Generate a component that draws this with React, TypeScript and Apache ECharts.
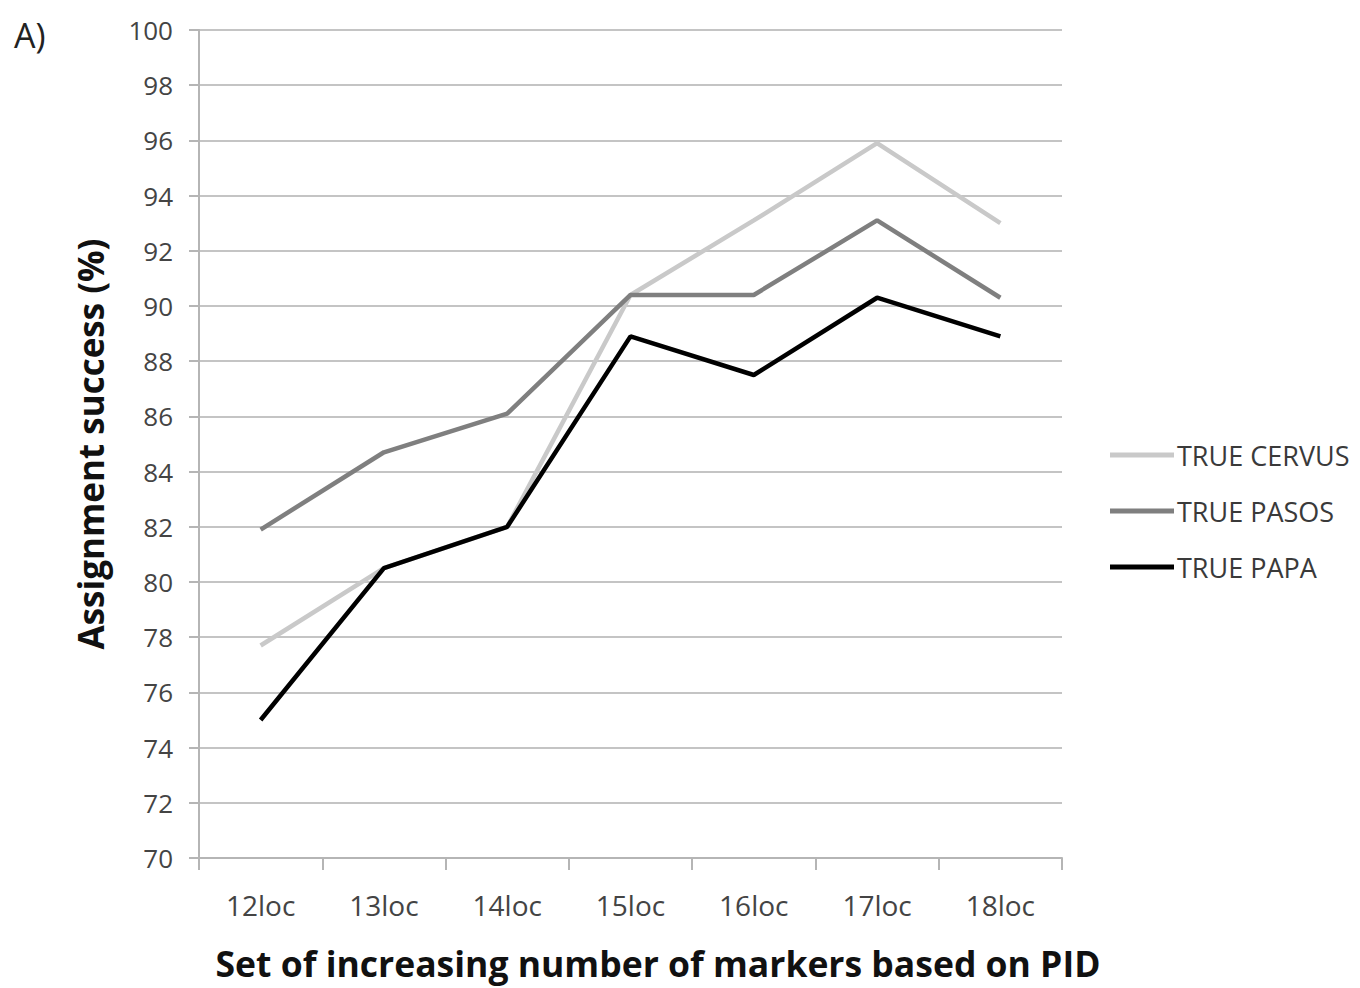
import React, { useEffect, useRef } from "react";
import * as echarts from "echarts";

const categories = ["12loc", "13loc", "14loc", "15loc", "16loc", "17loc", "18loc"];
const cervus = [77.7, 80.5, 82.0, 90.4, 93.1, 95.9, 93.0];
const pasos = [81.9, 84.7, 86.1, 90.4, 90.4, 93.1, 90.3];
const papa = [75.0, 80.5, 82.0, 88.9, 87.5, 90.3, 88.9];
const seriesNames = ["TRUE CERVUS", "TRUE PASOS", "TRUE PAPA"];
const seriesColors = ["#c9c9c9", "#7f7f7f", "#000000"];
const xTitle = "Set of increasing number of markers based on PID";
const yTitle = "Assignment success (%)";

const FONT = "'Open Sans', 'Noto Sans', sans-serif";

export default function App() {
  const ref = useRef<HTMLDivElement>(null);
  useEffect(() => {
    if (!ref.current) return;
    const chart = echarts.init(ref.current, null, { renderer: "svg" });
    const values = [cervus, pasos, papa];
    chart.setOption({
      animation: false,
      backgroundColor: "#ffffff",
      textStyle: { fontFamily: FONT },
      grid: { left: 199, right: 298, top: 30, bottom: 130, containLabel: false },
      graphic: [
        {
          type: "text",
          left: 14,
          top: 18,
          style: { text: "A)", font: `34px ${FONT}`, fill: "#222" },
        },
        {
          type: "text",
          x: 658,
          y: 963,
          style: {
            text: xTitle,
            font: `bold 35.5px ${FONT}`,
            lineHeight: 38,
            fill: "#111",
            align: "center",
            verticalAlign: "middle",
          },
        },
      ],
      legend: {
        orient: "vertical",
        left: 1105,
        top: 436,
        icon: "rect",
        itemWidth: 64,
        itemHeight: 5,
        itemGap: 28,
        textStyle: { fontFamily: FONT, fontSize: 27, lineHeight: 28, color: "#3a3a3a", padding: [0, 0, 0, -2] },
        data: seriesNames,
      },
      xAxis: {
        type: "category",
        data: categories,
        boundaryGap: true,
        axisLine: { lineStyle: { color: "#b5b5b5", width: 2 } },
        axisTick: { show: true, length: 12, lineStyle: { color: "#b5b5b5", width: 2 } },
        axisLabel: { fontFamily: FONT, fontSize: 28, color: "#444", margin: 33 },
      },
      yAxis: {
        type: "value",
        min: 70,
        max: 100,
        interval: 2,
        axisLine: { show: true, lineStyle: { color: "#b5b5b5", width: 2 } },
        axisTick: { show: true, length: 10, lineStyle: { color: "#b5b5b5", width: 2 } },
        splitLine: { lineStyle: { color: "#c4c4c4", width: 2 } },
        axisLabel: { fontFamily: FONT, fontSize: 26, color: "#444", margin: 26 },
        name: yTitle,
        nameLocation: "middle",
        nameGap: 91,
        nameTextStyle: { fontFamily: FONT, fontSize: 35, fontWeight: "bold", color: "#111" },
      },
      series: seriesNames.map((n, i) => ({
        name: n,
        type: "line",
        data: values[i],
        symbol: "none",
        color: seriesColors[i],
        lineStyle: { color: seriesColors[i], width: 4.5 },
        z: 2 + i,
      })),
    });
    return () => chart.dispose();
  }, []);
  return (
    <div
      ref={ref}
      style={{ position: "absolute", left: 0, top: 0, width: 1360, height: 988 }}
    />
  );
}
